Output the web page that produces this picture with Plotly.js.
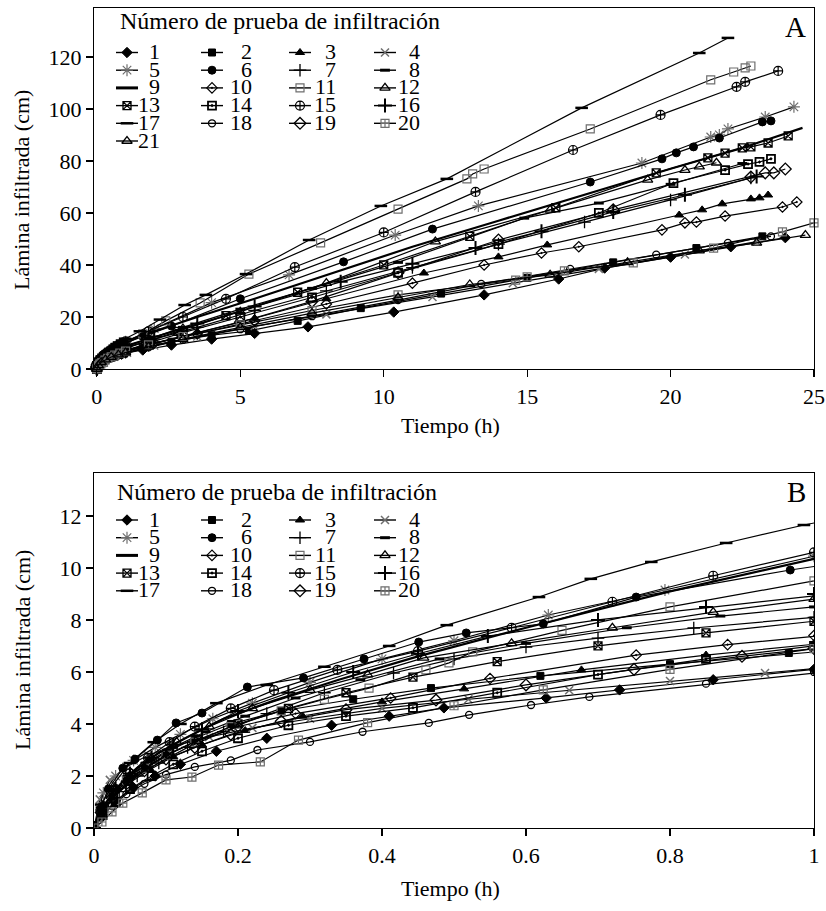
<!DOCTYPE html>
<html><head><meta charset="utf-8">
<script src="https://cdn.plot.ly/plotly-3.0.1.min.js"></script>
<style>html,body{margin:0;padding:0;background:#fff}#chart{width:826px;height:911px}</style>
</head><body><div id="chart"></div>
<script>
// ---------- data: time (h) and cumulative infiltration (cm) per test ----------
const T01=[0,0.012,0.03,0.055,0.085,0.12,0.17,0.24,0.33,0.41,0.486,0.628,0.73,0.86,1.0,1.6,2.6,4,5.5,7.36,10.35,13.5,16.1,17.7,20,22.1,24.0];
const L01=[0,0.5,1.05,1.55,2.0,2.45,2.95,3.45,3.95,4.3,4.62,5.0,5.31,5.7,6.1,7.3,9.2,11.5,13.7,16.2,21.9,28.5,34.6,38.8,43,47,50.5];
const T02=[0,0.01,0.025,0.045,0.07,0.1,0.14,0.19,0.26,0.36,0.468,0.62,0.8,0.965,1.6,2.6,4,5.3,7,9.2,12,15,18,20.9,23.2];
const L02=[0,0.7,1.3,1.9,2.4,2.9,3.45,4.0,4.5,4.95,5.38,5.85,6.3,6.73,8.2,10.5,13,14.6,18.5,23.4,29,35,41,46.5,51];
const T03=[0,0.01,0.028,0.05,0.078,0.11,0.15,0.21,0.29,0.4,0.514,0.677,0.85,1.0,2,3.5,5.5,8,11.4,14.0,15.7,20.3,21.1,21.8,22.8,23.1,23.4];
const L03=[0,0.6,1.2,1.75,2.25,2.75,3.2,3.75,4.3,4.85,5.35,6.08,6.65,7.1,10,14,19.5,27,36.9,43.1,47.7,59.2,61.2,63.5,65.4,65.8,66.9];
const T04=[0,0.008,0.022,0.045,0.075,0.11,0.16,0.22,0.3,0.4,0.52,0.66,0.8,0.932,1.05,2,3.5,5.5,8,11.7,14.5,17.5,20.5,23.0];
const L04=[0,1.1,1.85,2.35,2.8,3.15,3.5,3.85,4.2,4.6,4.95,5.3,5.65,5.96,6.25,9,12.5,16.5,21,27.7,33,38.5,44,49];
const T05=[0,0.013,0.03,0.055,0.085,0.12,0.165,0.22,0.3,0.4,0.5,0.631,0.793,1.0,2.0,4.0,6.7,10.4,13.3,19.0,21.4,21.7,22.0,23.3,24.3];
const L05=[0,1.35,2.0,2.6,3.1,3.6,4.2,4.8,5.6,6.5,7.2,8.19,9.15,10.45,15.5,25.5,36.2,51.5,62.7,79.2,89.2,90.0,92.3,96.9,100.8];
const T06=[0,0.008,0.02,0.04,0.057,0.088,0.114,0.15,0.213,0.291,0.375,0.451,0.517,0.624,0.753,0.967,1.6,2.6,5.0,8.6,11.7,17.2,19.7,20.2,20.8,21.7,23.2,23.5];
const L06=[0,0.69,1.5,2.3,2.65,3.38,4.04,4.42,5.42,5.77,6.5,7.15,7.5,7.85,8.88,9.92,12.5,16.5,27,41.2,53.8,71.9,80.8,83.1,85.4,88.8,95.0,95.4];
const T07=[0,0.015,0.035,0.06,0.09,0.13,0.18,0.24,0.32,0.416,0.5,0.6,0.7,0.833,1.0,2,3.5,5.5,8,11,14,17,20,22.8];
const L07=[0,0.8,1.4,2.0,2.5,3.1,3.7,4.4,5.2,5.96,6.5,6.96,7.3,7.69,8.1,11.5,16,22.5,30,39,48,56.5,65,73.5];
const T08=[0,0.01,0.028,0.05,0.078,0.11,0.155,0.21,0.28,0.37,0.48,0.6,0.74,0.87,1.0,1.8,3,5,7.5,10.5,14.9,17.5,20,22.5];
const L08=[0,0.7,1.4,2.0,2.6,3.1,3.7,4.3,5.0,5.7,6.5,7.1,7.7,8.15,8.5,11.5,16,23,31,41,58,63.8,71,79];
const T09=[0,0.015,0.035,0.06,0.09,0.13,0.18,0.25,0.34,0.45,0.6,0.8,1.0,2,3.5,5.5,8,11,14,17,20,22.5,24.6];
const L09=[0,0.9,1.6,2.3,2.9,3.5,4.2,4.9,5.7,6.6,7.7,9.1,10.35,14.5,20,27,36,47,57,67,77,85,92.7];
const T10=[0,0.01,0.025,0.045,0.07,0.1,0.14,0.2,0.28,0.412,0.55,0.753,0.88,1.0,2,3.5,5.5,8,11,13.5,15.5,16.8,19.7,20.5,20.9,21.9,23.9,24.4];
const L10=[0,0.6,1.2,1.8,2.3,2.8,3.3,3.9,4.4,5.0,5.75,6.65,7.05,7.4,10,13.5,18.5,25,33,40,44.6,47.0,53.5,56.2,56.5,58.8,62.3,64.2];
const T11=[0,0.01,0.025,0.045,0.07,0.1,0.14,0.19,0.26,0.32,0.382,0.461,0.493,0.526,0.65,0.8,1.0,1.6,2.4,3.6,5.3,7.8,10.5,12.9,13.1,13.5,17.2,21.4,22.2,22.6,22.8];
const L11=[0,0.6,1.2,1.8,2.3,2.8,3.3,3.9,4.5,4.95,5.38,6.08,6.35,6.77,7.6,8.5,9.5,13.5,18.5,25.4,36.5,48.5,61.5,73.1,75.0,76.9,92.3,111.2,114.2,115.8,116.5];
const T12=[0,0.012,0.03,0.052,0.08,0.115,0.16,0.22,0.3,0.38,0.458,0.58,0.72,0.86,1.0,1.8,3,5,8,11.8,15.8,19.2,20.5,21.0,21.6];
const L12=[0,0.8,1.5,2.1,2.7,3.3,3.9,4.6,5.3,5.9,6.54,7.1,7.7,8.3,8.8,11.5,15.5,22,33,49,61.2,72.7,76.5,77.8,79.3];
const T13=[0,0.01,0.027,0.048,0.075,0.105,0.145,0.2,0.27,0.35,0.443,0.56,0.7,0.85,1.0,1.7,2.8,4.5,7,10,13,16,19.5,21.3,21.9,22.5,22.8,23.4,24.1];
const L13=[0,0.6,1.2,1.8,2.35,2.85,3.4,4.0,4.6,5.2,5.8,6.4,7.0,7.5,7.95,10.5,14.5,20.5,29.5,40,51,62,75.4,81.2,83.0,85.0,85.4,86.9,89.6];
const T14=[0,0.012,0.03,0.05,0.08,0.11,0.15,0.2,0.27,0.35,0.443,0.56,0.7,0.85,1.0,1.8,3,5,7.5,10.5,14,17.5,20.1,21.9,22.7,23.1,23.5];
const L14=[0,0.5,1.0,1.5,2.0,2.45,2.95,3.45,3.95,4.3,4.62,5.2,5.9,6.5,7.0,10,14,20,27.5,37,48,60,71.5,76.5,78.8,79.6,80.8];
const T15=[0,0.012,0.03,0.05,0.075,0.105,0.14,0.19,0.25,0.338,0.45,0.58,0.72,0.86,1.0,1.8,3.0,4.5,6.9,10,13.2,16.6,19.65,22.3,22.6,23.75];
const L15=[0,0.8,1.5,2.1,2.7,3.3,3.9,4.6,5.3,6.08,6.8,7.7,8.7,9.7,10.6,14.5,20.0,27,39.2,52.5,68.1,84.2,97.7,108.5,110.4,114.6];
const T16=[0,0.012,0.03,0.05,0.08,0.11,0.15,0.2,0.27,0.36,0.45,0.547,0.7,0.85,1.0,2,3.5,5.5,8.5,11,13.2,15.5,18.0,20.5,23.0];
const L16=[0,0.8,1.5,2.1,2.7,3.2,3.8,4.5,5.2,6.0,6.7,7.38,8.0,8.5,9.0,12.5,17.5,24.0,33.5,40.5,46.5,53,60.4,67,74];
const T17=[0,0.01,0.025,0.05,0.083,0.12,0.17,0.24,0.32,0.41,0.49,0.618,0.69,0.774,0.878,0.986,1.5,2.2,3.06,3.8,5.2,7.4,9.9,12.2,16.9,21.0,22.0];
const L17=[0,0.9,1.6,2.5,3.3,4.0,4.8,5.5,6.2,7.0,7.8,8.88,9.58,10.23,10.96,11.65,14.5,19,24.6,28.5,36.5,49.6,62.7,73.1,100.4,121.5,127.3];
const T18=[0,0.01,0.025,0.045,0.07,0.1,0.14,0.19,0.227,0.3,0.373,0.465,0.521,0.607,0.688,0.85,1.0,1.8,3,5,7.5,10.5,13.4,16.5,19.5,22.0,23.5];
const L18=[0,0.4,0.85,1.3,1.7,2.05,2.35,2.6,3.0,3.31,3.7,4.04,4.35,4.73,5.04,5.55,6.0,8.3,11.2,15.3,20.3,26.5,32.7,38.5,44,48.5,51];
const T19=[0,0.01,0.025,0.045,0.07,0.1,0.14,0.19,0.26,0.35,0.475,0.6,0.75,0.9,1.0,1.8,3,5,7.5,10.5,14.0,18.0,22.8,23.3,23.6,24.0];
const L19=[0,0.6,1.15,1.7,2.2,2.65,3.1,3.6,4.1,4.55,4.92,5.5,6.1,6.6,6.9,9.2,12.5,18,26,37,49.6,61.2,73.8,75.4,75.4,76.9];
const T20=[0,0.011,0.025,0.04,0.067,0.10,0.136,0.173,0.231,0.284,0.38,0.5,0.624,0.8,1.0,1.8,3,5,7.5,10.5,14.6,15.0,16.3,18.7,21.5,23.9,25.0];
const L20=[0,0.23,0.62,0.96,1.35,1.85,1.96,2.42,2.54,3.38,4.05,4.7,5.31,6.1,6.9,9.3,12.5,17,22.5,28.5,34.2,35.4,37.7,40.8,46.5,52.7,56.2];
const T21=[0,0.05,0.15,0.3,0.5,0.75,1.0,1.8,3,5,7.5,10.5,13,15.8,18.5,21,23,24.7];
const L21=[0,1.4,2.6,3.6,4.6,5.5,6.3,8.5,11.5,16,21.5,27.5,32.5,36.2,41,45.5,48.5,51.5];

const TIMES=[T01,T02,T03,T04,T05,T06,T07,T08,T09,T10,T11,T12,T13,T14,T15,T16,T17,T18,T19,T20,T21];
const DEPTHS=[L01,L02,L03,L04,L05,L06,L07,L08,L09,L10,L11,L12,L13,L14,L15,L16,L17,L18,L19,L20,L21];
const testsA=[1,2,3,4,5,6,7,8,9,10,11,12,13,14,15,16,17,18,19,20,21];
const testsB=[1,2,3,4,5,6,7,8,9,10,11,12,13,14,15,16,17,18,19,20];

const xTicksA=[0,5,10,15,20,25];
const yTicksA=[0,20,40,60,80,100,120];
const xTicksB=[0,0.2,0.4,0.6,0.8,1];
const yTicksB=[0,2,4,6,8,10,12];
const legendTitle='Número de prueba de infiltración';
const xTitle='Tiempo (h)';
const yTitle='Lámina infiltrada (cm)';
const panelLabels=['A','B'];

// ---------- styles ----------
const G='#6e6e6e', K='#000';
const STY={
 1:{s:'diamond',z:8,c:K,w:1},
 2:{s:'square',z:7,c:K,w:1},
 3:{s:'triangle-up',z:8,c:K,w:1},
 4:{s:'x-thin-open',z:8,c:G,w:1.5},
 5:{s:'asterisk-open',z:10,c:G,w:1.2},
 6:{s:'circle',z:8,c:K,w:1},
 7:{s:'cross-thin-open',z:9,c:K,w:1.3},
 8:{s:'line-ew-open',z:7,c:K,w:3},
 9:{s:null,z:0,c:K,w:0},
 10:{s:'diamond-open-dot',z:8,c:K,w:1.2},
 11:{s:'square-open',z:8,c:G,w:1.2},
 12:{s:'triangle-up-open',z:9,c:K,w:1.3},
 13:{s:'square-x-open',z:8,c:K,w:1.3},
 14:{s:'square-open-dot',z:8,c:K,w:1.8},
 15:{s:'circle-cross-open',z:9,c:K,w:1.2},
 16:{s:'cross-thin-open',z:10,c:K,w:2},
 17:{s:'line-ew-open',z:9,c:K,w:2.5},
 18:{s:'circle-open',z:7,c:K,w:1.3},
 19:{s:'diamond-open',z:9,c:K,w:1.3},
 20:{s:'square-cross-open',z:8,c:G,w:1.2},
 21:{s:'triangle-up-open',z:9,c:K,w:1.3}
};

function mk(st){return {symbol:st.s,size:st.z,color:st.c,line:{color:st.c,width:st.w}};}

const traces=[];
function addPanel(ids,xa,ya,clip){
  ids.forEach(id=>{
    const st=STY[id];
    const tr={type:'scatter',x:TIMES[id-1],y:DEPTHS[id-1],xaxis:xa,yaxis:ya,
      mode:st.s?'lines+markers':'lines',
      line:{color:'#000',width:st.s?1.2:2.2},
      cliponaxis:clip,showlegend:false,hoverinfo:'skip'};
    if(st.s) tr.marker=mk(st);
    traces.push(tr);
  });
}
addPanel(testsA,'x','y',false);
addPanel(testsB,'x2','y2',true);

// ---------- layout geometry ----------
const W=826,H=911,ML=94,MR=12,MT=8,MB=83;
const PW=W-ML-MR, PH=H-MT-MB;
const px=x=>(x-ML)/PW, py=y=>(H-MB-y)/PH;
const FONT='Liberation Serif, Times New Roman, serif';
const ann=[];
function txt(x,y,t,o){ann.push(Object.assign({xref:'paper',yref:'paper',x:px(x),y:py(y),text:t,showarrow:false,
  xanchor:'center',yanchor:'middle',font:{family:FONT,size:22,color:'#000'}},o||{}));}

// manual legends
const colX0=[116,201,289,374], colXR=[162,254,338,422];
function addLegend(ids,titleY,row0,titleX){
  txt(titleX,titleY,legendTitle,{xanchor:'left',font:{family:FONT,size:24,color:'#000'}});
  ids.forEach((id,i)=>{
    const r=Math.floor(i/4), c=i%4, y=row0+r*17.7, x0=colX0[c];
    const st=STY[id];
    traces.push({type:'scatter',x:[x0,x0+22],y:[y,y],xaxis:'x3',yaxis:'y3',mode:'lines',
      line:{color:'#000',width:st.s?1.4:3},showlegend:false,hoverinfo:'skip'});
    if(st.s) traces.push({type:'scatter',x:[x0+11],y:[y],xaxis:'x3',yaxis:'y3',mode:'markers',
      marker:mk(st),showlegend:false,hoverinfo:'skip',cliponaxis:false});
    txt(colXR[c],y-1,String(id),{xanchor:'right',font:{family:FONT,size:22,color:'#000'}});
  });
}
addLegend(testsA,21,52.5,118);
addLegend(testsB,492,520,115);

txt(22,190,yTitle,{textangle:-90});
txt(22,650,yTitle,{textangle:-90});
txt(450,425,xTitle);
txt(450,888,xTitle);
txt(795,27,panelLabels[0],{font:{family:FONT,size:29,color:'#000'}});
txt(796,492,panelLabels[1],{font:{family:FONT,size:29,color:'#000'}});

const ax={ticks:'outside',ticklen:7,tickwidth:1.2,tickcolor:'#000',showline:true,mirror:true,linecolor:'#000',
  linewidth:1.2,showgrid:false,zeroline:false,tickfont:{family:FONT,size:22,color:'#000'},fixedrange:true};
const layout={
  width:W,height:H,margin:{l:ML,r:MR,t:MT,b:MB},paper_bgcolor:'#fff',plot_bgcolor:'rgba(0,0,0,0)',
  showlegend:false,font:{family:FONT,size:22,color:'#000'},
  xaxis:Object.assign({},ax,{domain:[0,1],anchor:'y',range:[-0.1,25],tickvals:xTicksA}),
  yaxis:Object.assign({},ax,{domain:[(H-MB-369)/PH,1],anchor:'x',range:[0,138.8],tickvals:yTicksA}),
  xaxis2:Object.assign({},ax,{domain:[0,1],anchor:'y2',range:[0,1],tickvals:xTicksB,ticktext:xTicksB.map(String)}),
  yaxis2:Object.assign({},ax,{domain:[0,(H-MB-473)/PH],anchor:'x2',range:[0,13.65],tickvals:yTicksB}),
  xaxis3:{domain:[0,1],anchor:'y3',range:[ML,W-MR],visible:false,fixedrange:true},
  yaxis3:{domain:[0,1],anchor:'x3',range:[H-MB,MT],visible:false,fixedrange:true},
  annotations:ann
};
Plotly.newPlot('chart',traces,layout,{staticPlot:true});
</script></body></html>
